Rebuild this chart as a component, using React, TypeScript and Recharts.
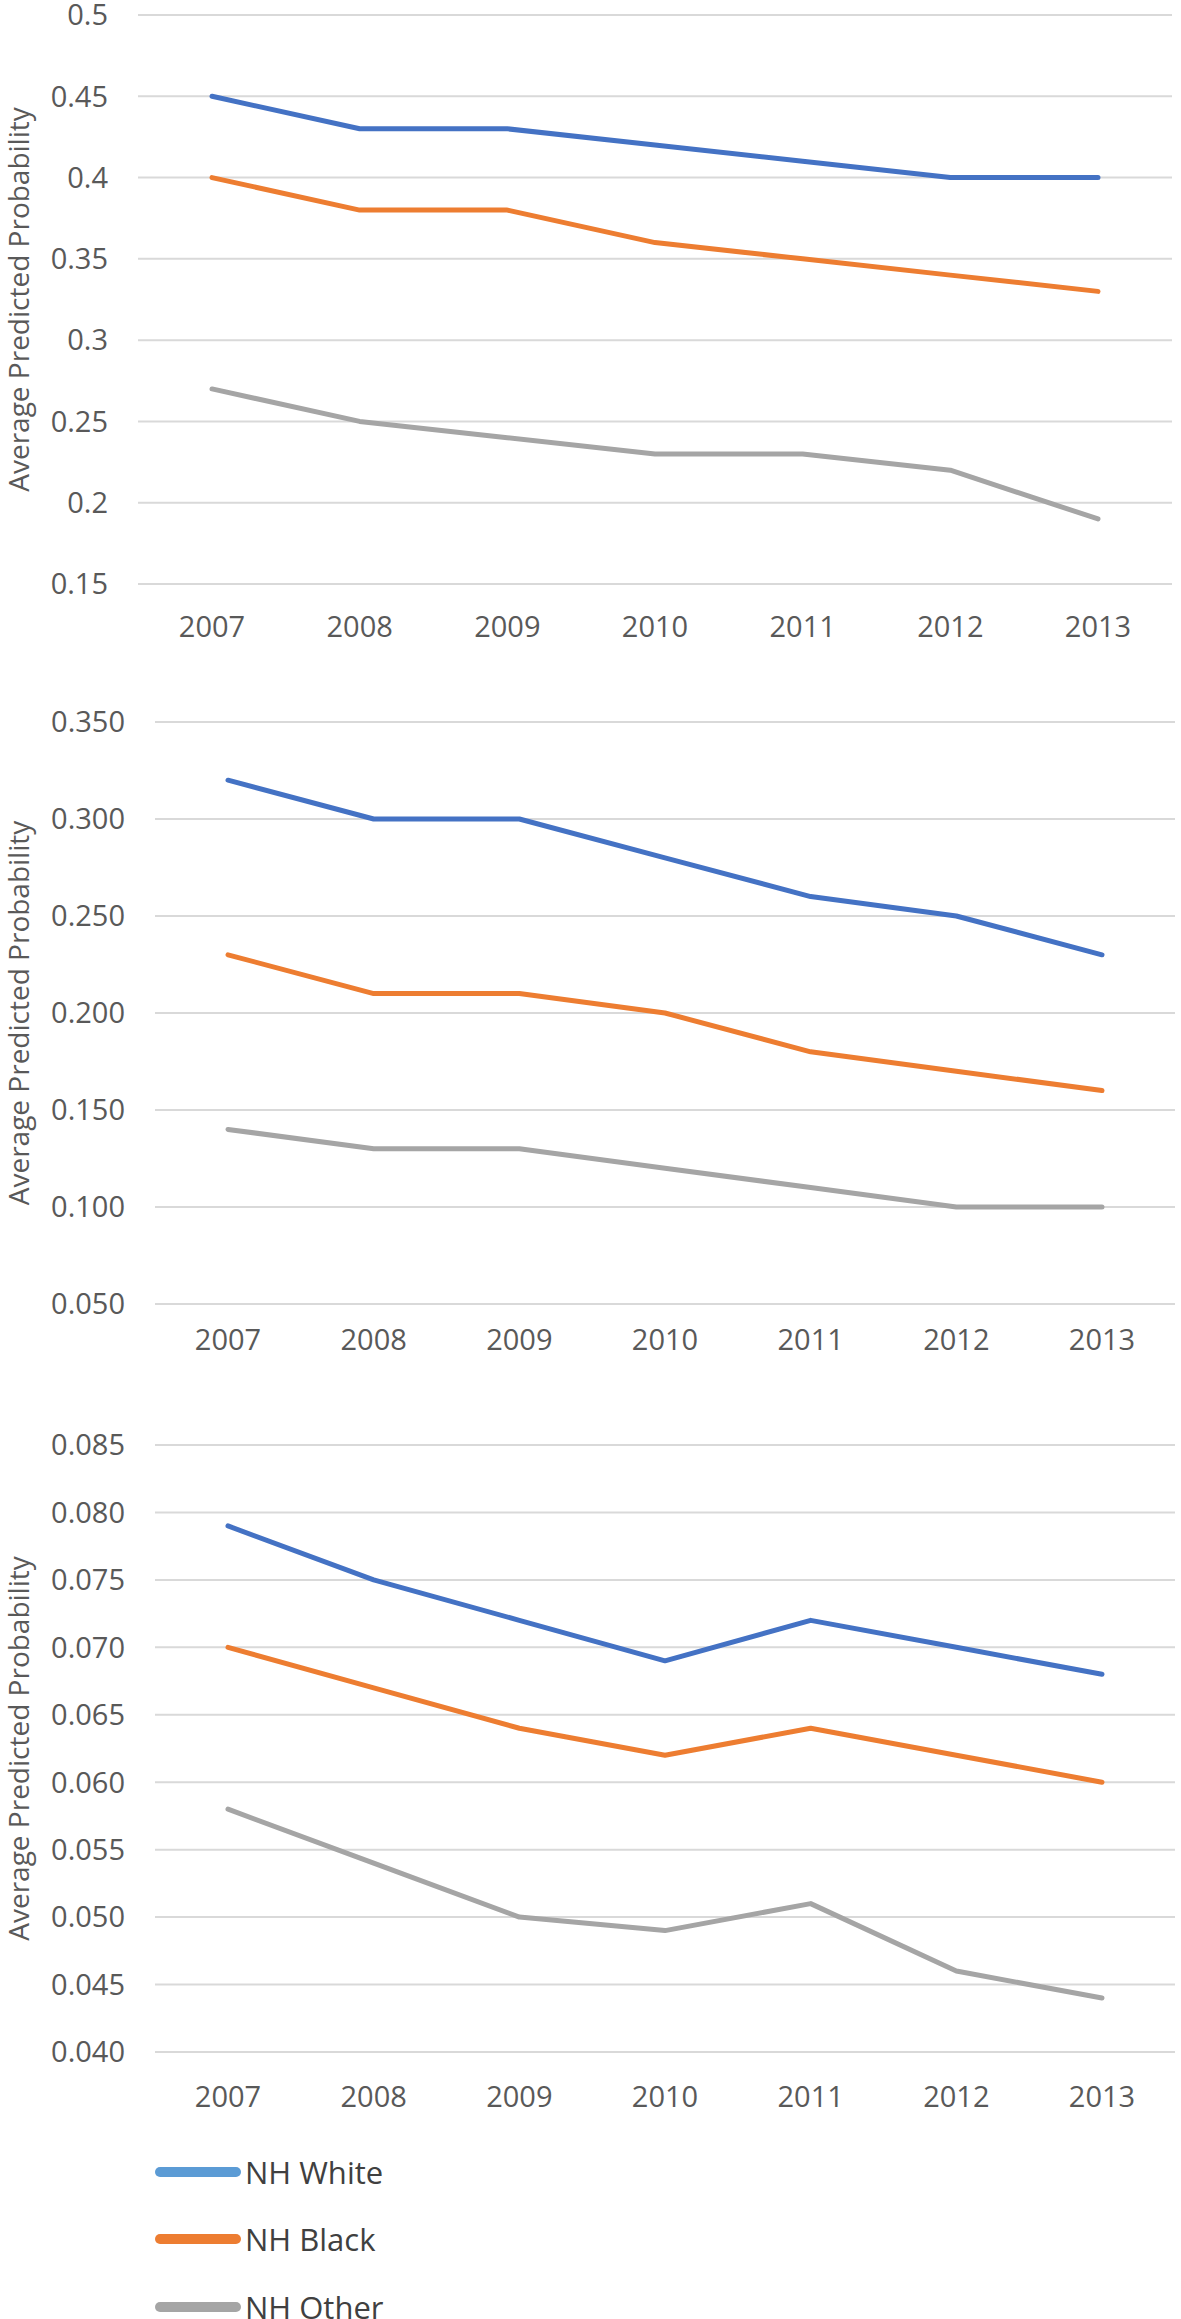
import { LineChart, Line, XAxis, YAxis, CartesianGrid } from "recharts";

const years = ["2007", "2008", "2009", "2010", "2011", "2012", "2013"];
const seriesNames = ["NH White", "NH Black", "NH Other"];
const lineColors = ["#4472c4", "#ed7d31", "#a5a5a5"];
const legendColors = ["#5b9bd5", "#ed7d31", "#a5a5a5"];

// panel 1
const white1 = [0.45, 0.43, 0.43, 0.42, 0.41, 0.4, 0.4];
const black1 = [0.4, 0.38, 0.38, 0.36, 0.35, 0.34, 0.33];
const other1 = [0.27, 0.25, 0.24, 0.23, 0.23, 0.22, 0.19];
const ticks1 = [0.15, 0.2, 0.25, 0.3, 0.35, 0.4, 0.45, 0.5];

// panel 2
const white2 = [0.32, 0.3, 0.3, 0.28, 0.26, 0.25, 0.23];
const black2 = [0.23, 0.21, 0.21, 0.2, 0.18, 0.17, 0.16];
const other2 = [0.14, 0.13, 0.13, 0.12, 0.11, 0.1, 0.1];
const ticks2 = [0.05, 0.1, 0.15, 0.2, 0.25, 0.3, 0.35];

// panel 3
const white3 = [0.079, 0.075, 0.072, 0.069, 0.072, 0.07, 0.068];
const black3 = [0.07, 0.067, 0.064, 0.062, 0.064, 0.062, 0.06];
const other3 = [0.058, 0.054, 0.05, 0.049, 0.051, 0.046, 0.044];
const ticks3 = [0.04, 0.045, 0.05, 0.055, 0.06, 0.065, 0.07, 0.075, 0.08, 0.085];

const yTitle = "Average Predicted Probability";
const FONT = "'Open Sans', sans-serif";
const TEXT_COLOR = "#595959";

const buildRows = (w: number[], b: number[], o: number[]) =>
  years.map((year, i) => ({
    year,
    [seriesNames[0]]: w[i],
    [seriesNames[1]]: b[i],
    [seriesNames[2]]: o[i],
  }));

interface PanelProps {
  top: number;
  height: number;
  rows: Record<string, string | number>[];
  ticks: number[];
  fmt: (v: number) => string;
  marginTop: number;
  marginRight: number;
  axisWidth: number;
  xPad: number;
  xTickMargin: number;
  xAxisHeight: number;
}

const Panel = ({
  top,
  height,
  rows,
  ticks,
  fmt,
  marginTop,
  marginRight,
  axisWidth,
  xPad,
  xTickMargin,
  xAxisHeight,
}: PanelProps) => (
  <div style={{ position: "absolute", left: 0, top, width: 1181, height }}>
    <LineChart
      width={1181}
      height={height}
      data={rows}
      margin={{ top: marginTop, right: marginRight, bottom: 0, left: 0 }}
    >
      <CartesianGrid
        vertical={false}
        stroke="#d9d9d9"
        strokeWidth={2}
      />
      <XAxis
        dataKey="year"
        axisLine={false}
        tickLine={false}
        tickSize={0}
        tickMargin={xTickMargin}
        height={xAxisHeight}
        padding={{ left: xPad, right: xPad }}
        tick={{ fontSize: 29, fill: TEXT_COLOR, fontFamily: FONT }}
      />
      <YAxis
        type="number"
        domain={[ticks[0], ticks[ticks.length - 1]]}
        ticks={ticks}
        tickFormatter={fmt}
        interval={0}
        width={axisWidth}
        axisLine={false}
        tickLine={false}
        tickSize={0}
        tickMargin={30}
        tick={{ fontSize: 29, fill: TEXT_COLOR, fontFamily: FONT }}
        label={(props: any) => {
          const vb = props.viewBox;
          const cx = 18;
          const cy = vb.y + vb.height / 2;
          return (
            <text
              x={cx}
              y={cy}
              transform={`rotate(-90, ${cx}, ${cy})`}
              textAnchor="middle"
              dominantBaseline="central"
              fontSize={28}
              fontFamily={FONT}
              fill={TEXT_COLOR}
            >
              {yTitle}
            </text>
          );
        }}
      />
      {seriesNames.map((name, i) => (
        <Line
          key={name}
          type="linear"
          dataKey={name}
          stroke={lineColors[i]}
          strokeWidth={5}
          strokeLinecap="round"
          strokeLinejoin="round"
          dot={false}
          activeDot={false}
          isAnimationActive={false}
        />
      ))}
    </LineChart>
  </div>
);

const legendRows = [2172, 2239, 2307];

export default function App() {
  return (
    <div
      style={{
        position: "absolute",
        left: 0,
        top: 0,
        width: 1181,
        height: 2319,
        background: "#fff",
        overflow: "hidden",
      }}
    >
      <Panel
        top={0}
        height={644}
        rows={buildRows(white1, black1, other1)}
        ticks={ticks1}
        fmt={(v) => String(v)}
        marginTop={15}
        marginRight={9}
        axisWidth={138}
        xPad={74}
        xTickMargin={32}
        xAxisHeight={60}
      />
      <Panel
        top={650}
        height={714}
        rows={buildRows(white2, black2, other2)}
        ticks={ticks2}
        fmt={(v) => v.toFixed(3)}
        marginTop={72}
        marginRight={6}
        axisWidth={155}
        xPad={73}
        xTickMargin={25}
        xAxisHeight={60}
      />
      <Panel
        top={1380}
        height={742}
        rows={buildRows(white3, black3, other3)}
        ticks={ticks3}
        fmt={(v) => v.toFixed(3)}
        marginTop={65}
        marginRight={6}
        axisWidth={155}
        xPad={73}
        xTickMargin={34}
        xAxisHeight={70}
      />
      {seriesNames.map((name, i) => (
        <div
          key={name}
          style={{
            position: "absolute",
            left: 155,
            top: legendRows[i] - 20,
            height: 40,
            display: "flex",
            alignItems: "center",
          }}
        >
          <div
            style={{
              width: 86,
              height: 10,
              borderRadius: 5,
              background: legendColors[i],
            }}
          />
          <span
            style={{
              marginLeft: 4,
              fontSize: 31,
              fontFamily: FONT,
              color: "#404040",
              lineHeight: "40px",
            }}
          >
            {name}
          </span>
        </div>
      ))}
    </div>
  );
}
